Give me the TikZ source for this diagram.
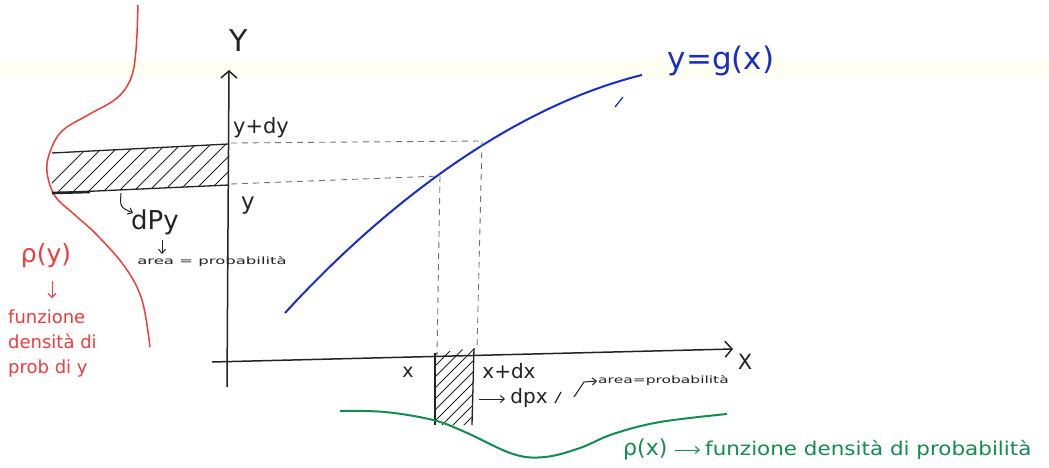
\documentclass[tikz,border=0pt]{standalone}
\usepackage{fontspec}
\setmainfont{DejaVu Sans}
\usetikzlibrary{arrows.meta}
\definecolor{ink}{RGB}{35,35,35}
\definecolor{redink}{RGB}{240,60,60}
\definecolor{blueink}{RGB}{25,45,200}
\definecolor{greenink}{RGB}{20,140,80}
\begin{document}
\begin{tikzpicture}[x=1pt,y=-1pt,
  axis/.style={line width=1.5pt, draw=ink, -{Straight Barb[length=7pt,width=16pt,line width=1.5pt]}},
  guide/.style={dash pattern=on 6pt off 5pt, draw=black!55, line width=0.9pt},
  edge/.style={draw=ink, line width=1.3pt},
  hatch/.style={draw=ink, line width=0.9pt},
  lbl/.style={inner sep=0pt, text=ink},
  smallarrow/.style={draw=ink, line width=1pt, -{Straight Barb[length=4pt,width=7pt]}},
  redarrow/.style={draw=redink, line width=1pt, -{Straight Barb[length=4pt,width=8pt]}},
  greenarrow/.style={draw=greenink, line width=1pt, -{Straight Barb[length=4pt,width=7pt]}}
]
\useasboundingbox[fill=white] (0,0) rectangle (1049,468);
\fill[yellow!5] (0,58) rectangle (1049,78);

% axes
\coordinate (yb) at (227,387);
\coordinate (yt) at (229,70);
\coordinate (xb) at (212,362);
\coordinate (xt) at (733,349);
\draw[axis] (yb) -- (yt);
\draw[axis] (xb) -- (xt);
\node[lbl, font=\fontsize{30}{30}\selectfont] (Ylab) at (239,41) {Y};
\node[lbl, font=\fontsize{21}{21}\selectfont] (Xlab) at (745,362) {X};

% red density p(y)
\draw[redink, line width=1.5pt] plot[smooth, tension=0.6] coordinates {(138,5) (136,50) (131,78) (117,98) (88,115) (62,131) (50,152) (47,172) (55,196) (75,215) (97,235) (125,267) (142,300) (150,347)};

% hatched band on y
\coordinate (b1) at (52,153);
\coordinate (b2) at (229,144);
\coordinate (b3) at (229,185);
\coordinate (b4) at (52,193);
\begin{scope}
  \clip (b1) -- (b2) -- (b3) -- (b4) -- cycle;
  \foreach \i in {0,...,14} \draw[hatch] (30+\i*15,205) -- ++(62,-62);
\end{scope}
\draw[edge] (b1) -- (b2);
\draw[edge] (b4) -- (b3);
\draw[ink, line width=2.6pt] (b4) -- (90,192);

% hatched strip on x
\coordinate (s1) at (435,353);
\coordinate (s2) at (435,425);
\coordinate (s3) at (474,348);
\coordinate (s4) at (472,425);
\begin{scope}
  \clip (s1) -- (s3) -- (s4) -- (s2) -- cycle;
  \foreach \i in {-9,...,6} \draw[hatch] (395+\i*11,450) -- ++(110,-110);
\end{scope}
\draw[edge] (s1) -- (s2);
\draw[edge] (s3) -- (s4);

% curve y = g(x)
\coordinate (p1) at (440,176);
\coordinate (p2) at (482,141);
\draw[blueink, line width=2pt] (285,313) .. controls (370,220) and (500,110) .. (642,75);
\draw[blueink, line width=1.2pt] (615,107) -- (623,97);
\node[lbl, text=blueink, font=\fontsize{31}{31}\selectfont] (glab) at (721,61) {y=g(x)};

% dashed guides
\coordinate (ya) at (231,184);
\coordinate (yc) at (231,143);
\coordinate (xa) at (437,355);
\coordinate (xc) at (477,350);
\draw[guide] (yc) -- (p2);
\draw[guide] (ya) -- (p1);
\draw[guide] (p1) -- (xa);
\draw[guide] (p2) -- (xc);

% labels near y axis
\node[lbl, font=\fontsize{21}{21}\selectfont] (ydy) at (261,128) {y+dy};
\node[lbl, font=\fontsize{23}{23}\selectfont] (ylab) at (248,206) {y};
\node[lbl, font=\fontsize{26}{26}\selectfont] (dpy) at (155,222) {dPy};
\coordinate (c1) at (121,193);
\coordinate (c2) at (133,213);
\draw[smallarrow] (c1) .. controls (120,207) .. (c2);
\coordinate (d1) at (162,240);
\coordinate (d2) at (162,254);
\draw[smallarrow] (d1) -- (d2);
\node[lbl, font=\fontsize{10}{10}\selectfont] (areay) at (212,262) {\scalebox{1.65}[1]{area = probabilità}};

% red labels
\node[lbl, text=redink, font=\fontsize{25}{25}\selectfont] (py) at (46,256) {ρ(y)};
\coordinate (r1) at (52,281);
\coordinate (r2) at (52,298);
\draw[redarrow] (r1) -- (r2);
\node[lbl, text=redink, font=\fontsize{18}{25}\selectfont, align=left, anchor=north west] (funy) at (8,310) {funzione\\densità di\\prob di y};

% labels near x axis
\node[lbl, font=\fontsize{19}{19}\selectfont] (xl) at (408,372) {x};
\node[lbl, font=\fontsize{20}{20}\selectfont] (xdx) at (509,371) {x+dx};
\node[lbl, font=\fontsize{20}{20}\selectfont] (dpx) at (529,398) {dpx};
\coordinate (e1) at (479,399);
\coordinate (e2) at (505,399);
\draw[smallarrow] (e1) -- (e2);
\coordinate (sl1) at (561,392);
\coordinate (sl2) at (555,403);
\draw[ink, line width=1.2pt] (sl1) -- (sl2);
\coordinate (f1) at (574,397);
\coordinate (f2) at (597,381);
\draw[smallarrow] (f1) -- (584,382) -- (f2);
\node[lbl, font=\fontsize{10}{10}\selectfont, anchor=west] (areax) at (598,381) {\scalebox{1.55}[1]{area=probabilità}};

% green density p(x)
\draw[greenink, line width=2pt] plot[smooth, tension=0.6] coordinates {(340,411) (385,412) (433,420) (465,432) (513,454) (545,457) (580,448) (613,434) (660,422) (727,414)};
\node[lbl, text=greenink, font=\fontsize{22}{22}\selectfont, anchor=west] (px) at (623,449) {ρ(x)};
\coordinate (g1) at (675,450);
\coordinate (g2) at (700,450);
\draw[greenarrow] (g1) -- (g2);
\node[lbl, text=greenink, font=\fontsize{19}{19}\selectfont, anchor=west] (funx) at (705,450) {\scalebox{1.13}[1]{funzione densità di probabilità}};
\end{tikzpicture}
\end{document}
